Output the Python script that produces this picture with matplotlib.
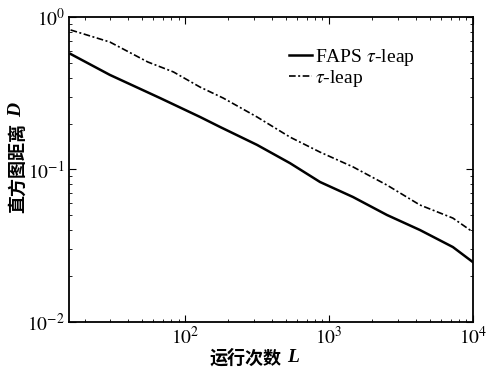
import numpy as np
import matplotlib
matplotlib.use("Agg")
import matplotlib.pyplot as plt

plt.rcParams['font.family'] = ['Liberation Serif', 'Noto Sans CJK SC', 'DejaVu Sans']
plt.rcParams['mathtext.fontset'] = 'stix'

# values (log-log)
L_faps = [16, 30, 67, 127, 175, 316, 536, 866, 1468, 2529, 4285, 7262, 10000]
D_faps = [0.572, 0.417, 0.294, 0.221, 0.190, 0.145, 0.110, 0.0828, 0.066, 0.0503, 0.0401, 0.031, 0.0247]

L_tau = [16, 30, 55, 83, 127, 184, 316, 536, 866, 1468, 2529, 4285, 7262, 10000]
D_tau = [0.822, 0.685, 0.507, 0.436, 0.347, 0.294, 0.221, 0.163, 0.130, 0.104, 0.079, 0.0585, 0.048, 0.0389]

x_ticks = [1e2, 1e3, 1e4]
x_labels = ['$10^{2}$', '$10^{3}$', '$10^{4}$']
y_ticks = [1e-2, 1e-1, 1e0]
y_labels = ['$10^{-2}$', '$10^{-1}$', '$10^{0}$']

fig = plt.figure(figsize=(4.87, 3.69), dpi=100)
ax = fig.add_axes([0.1417, 0.1274, 0.8293, 0.8266])

ax.loglog(L_faps, D_faps, color='black', lw=1.8, label=r'FAPS $\tau$-leap')
ax.loglog(L_tau, D_tau, color='black', lw=1.2, linestyle=(0, (4, 1.5, 1.2, 1.5)),
          label=r'$\tau$-leap')

ax.set_xlim(15.6, 1e4)
ax.set_ylim(1e-2, 1e0)
ax.set_xticks(x_ticks)
ax.set_xticklabels(x_labels)
ax.set_yticks(y_ticks)
ax.set_yticklabels(y_labels)
ax.tick_params(which='both', direction='in', top=True, right=True, labelsize=14)
ax.tick_params(which='major', length=5, pad=3)
ax.tick_params(which='minor', length=2.5)
for s in ax.spines.values():
    s.set_linewidth(1.3)

cjk = ['Noto Sans CJK SC', 'DejaVu Sans']

# axis labels: Chinese text plus italic serif symbol
tx = fig.text(0.505, 0.03, '运行次数', family=cjk, fontsize=13, fontweight='bold',
              ha='center', va='center')
ax.annotate('L', xy=(1, 0.5), xycoords=tx, xytext=(4, 0), textcoords='offset points',
            fontsize=14, style='italic', fontweight='bold', va='center', ha='left')

ty = fig.text(0.035, 0.545, '直方图距离', family=cjk, fontsize=13, fontweight='bold',
              rotation=90, ha='center', va='center')
ax.annotate('D', xy=(0.5, 1), xycoords=ty, xytext=(0, 4), textcoords='offset points',
            fontsize=14, style='italic', fontweight='bold', rotation=90, va='bottom', ha='center')

ax.legend(loc='upper right', bbox_to_anchor=(0.88, 0.935), frameon=False, fontsize=14,
          handlelength=1.2, handletextpad=0.15, labelspacing=0.0, borderpad=0)

fig.savefig('out.png', dpi=100)
